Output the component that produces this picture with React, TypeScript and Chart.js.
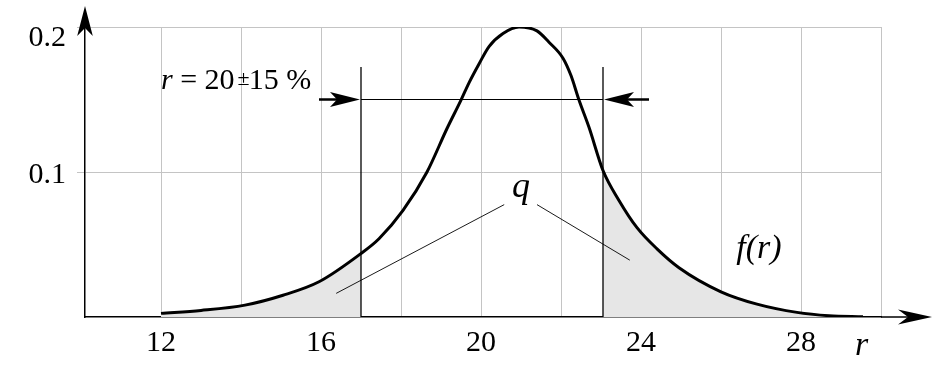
import React, { useEffect, useRef } from 'react';
import { Chart, registerables } from 'chart.js';

Chart.register(...registerables);

// density curve f(r)
const rValues = [12, 13, 14.1, 15.05, 15.95, 17, 17.45, 18.05, 18.65, 19.15, 19.5, 19.7, 19.95, 20.2, 20.55, 20.95, 21.4, 21.7, 22.05, 22.25, 22.45, 22.7, 23.05, 23.45, 23.9, 24.4, 24.95, 26, 26.9, 27.9, 28.7, 29.55];
const fValues = [0.0025, 0.0045, 0.0082, 0.015, 0.0243, 0.0438, 0.054, 0.0735, 0.1, 0.13, 0.1496, 0.1615, 0.1745, 0.1865, 0.1955, 0.2, 0.1973, 0.1895, 0.1785, 0.1665, 0.1496, 0.1308, 0.101, 0.0804, 0.0616, 0.047, 0.034, 0.0174, 0.0089, 0.0032, 0.0009, 0.0002];

// axes
const xMin = 10.1;
const xMax = 30;
const xGridTicks = [12, 14, 16, 18, 20, 22, 24, 26, 28, 30];
const xTickLabels = [12, 16, 20, 24, 28];
const yGridTicks = [0, 0.1, 0.2];
const yTickLabels = [0.1, 0.2];

// annotation values
const intervalLow = 17;
const intervalHigh = 23.05;
const markerTop = 0.1725;
const arrowLevel = 0.15;
const arrowTailLow = 15.95;
const arrowTailHigh = 24.2;
const intervalText = ['r', ' = 20', '\u00b1', '15 %'];
const intervalTextPos = { x: 12, y: 0.157 };
const qPos = { x: 21, y: 0.0825 };
const qLeaderLeft = [{ x: 20.58, y: 0.0775 }, { x: 16.38, y: 0.0163 }];
const qLeaderRight = [{ x: 21.4, y: 0.0775 }, { x: 23.72, y: 0.0392 }];
const fLabel = 'f(r)';
const fLabelPos = { x: 26.38, y: 0.0405 };
const axisLabel = 'r';
const axisLabelX = 29.35;

const SERIF = '"Liberation Serif", "Times New Roman", serif';
const FS = 30;

function stealth(ctx: CanvasRenderingContext2D, tx: number, ty: number, ang: number, L: number, W: number, N: number) {
  ctx.save();
  ctx.translate(tx, ty);
  ctx.rotate(ang);
  ctx.beginPath();
  ctx.moveTo(0, 0);
  ctx.lineTo(-L, -W);
  ctx.lineTo(-N, 0);
  ctx.lineTo(-L, W);
  ctx.closePath();
  ctx.fill();
  ctx.restore();
}

const annotPlugin = {
  id: 'annot',
  afterDraw(chart: any) {
    const { ctx, chartArea: ca, scales } = chart;
    const X = (v: number) => scales.x.getPixelForValue(v);
    const Y = (v: number) => scales.y.getPixelForValue(v);
    ctx.save();
    ctx.fillStyle = '#000';
    ctx.strokeStyle = '#000';

    // axis arrows
    ctx.lineWidth = 1.5;
    ctx.beginPath();
    ctx.moveTo(ca.left, ca.top);
    ctx.lineTo(ca.left, ca.top - 21 + 22);
    ctx.stroke();
    stealth(ctx, ca.left, ca.top - 21, -Math.PI / 2, 30, 7.8, 22);
    ctx.beginPath();
    ctx.moveTo(ca.right, ca.bottom);
    ctx.lineTo(ca.right + 30, ca.bottom);
    ctx.stroke();
    stealth(ctx, ca.right + 51, ca.bottom, 0, 34, 7.5, 24);

    // interval markers
    ctx.lineWidth = 1.3;
    [intervalLow, intervalHigh].forEach((v) => {
      ctx.beginPath();
      ctx.moveTo(X(v), Y(markerTop));
      ctx.lineTo(X(v), Y(0));
      ctx.stroke();
    });
    ctx.lineWidth = 1.2;
    ctx.beginPath();
    ctx.moveTo(X(intervalLow), Y(arrowLevel));
    ctx.lineTo(X(intervalHigh), Y(arrowLevel));
    ctx.stroke();
    ctx.lineWidth = 2.5;
    ctx.beginPath();
    ctx.moveTo(X(arrowTailLow), Y(arrowLevel));
    ctx.lineTo(X(intervalLow) - 20, Y(arrowLevel));
    ctx.moveTo(X(arrowTailHigh), Y(arrowLevel));
    ctx.lineTo(X(intervalHigh) + 20, Y(arrowLevel));
    ctx.stroke();
    stealth(ctx, X(intervalLow) - 1, Y(arrowLevel), 0, 30, 7.5, 23);
    stealth(ctx, X(intervalHigh) + 1, Y(arrowLevel), Math.PI, 30, 7.5, 23);

    // q leaders
    ctx.lineWidth = 0.9;
    [qLeaderLeft, qLeaderRight].forEach((seg) => {
      ctx.beginPath();
      ctx.moveTo(X(seg[0].x), Y(seg[0].y));
      ctx.lineTo(X(seg[1].x), Y(seg[1].y));
      ctx.stroke();
    });

    // texts
    ctx.textBaseline = 'alphabetic';
    ctx.textAlign = 'left';
    let tx = X(intervalTextPos.x);
    const ty = Y(intervalTextPos.y);
    ctx.font = `italic ${FS}px ${SERIF}`;
    ctx.fillText(intervalText[0], tx, ty);
    tx += ctx.measureText(intervalText[0]).width;
    ctx.font = `${FS}px ${SERIF}`;
    ctx.fillText(intervalText[1], tx, ty);
    tx += ctx.measureText(intervalText[1]).width + 3;
    ctx.font = `22px ${SERIF}`;
    ctx.fillText(intervalText[2], tx, ty - 4);
    tx += ctx.measureText(intervalText[2]).width - 1;
    ctx.font = `${FS}px ${SERIF}`;
    ctx.fillText(intervalText[3], tx, ty);

    ctx.font = `italic 36px ${SERIF}`;
    ctx.textAlign = 'center';
    ctx.fillText('q', X(qPos.x), Y(qPos.y));

    ctx.textAlign = 'left';
    ctx.font = `italic 34px ${SERIF}`;
    ctx.fillText(fLabel, X(fLabelPos.x), Y(fLabelPos.y));

    ctx.font = `italic 34px ${SERIF}`;
    ctx.fillText(axisLabel, X(axisLabelX), ca.bottom + 38);
    ctx.restore();
  },
};

export default function App() {
  const ref = useRef<HTMLCanvasElement | null>(null);
  useEffect(() => {
    if (!ref.current) return;
    const pts = rValues.map((r, i) => ({ x: r, y: fValues[i] }));
    const left = pts.filter((p) => p.x <= intervalLow);
    const right = pts.filter((p) => p.x >= intervalHigh);
    const common = { pointRadius: 0, cubicInterpolationMode: 'monotone' };
    const chart = new Chart(ref.current, {
      type: 'line',
      data: {
        datasets: [
          { ...common, data: pts, borderColor: '#000', borderWidth: 3, fill: false, order: 0 },
          { ...common, data: left, borderWidth: 0, borderColor: 'rgba(0,0,0,0)', backgroundColor: '#e6e6e6', fill: 'origin', order: 1 },
          { ...common, data: right, borderWidth: 0, borderColor: 'rgba(0,0,0,0)', backgroundColor: '#e6e6e6', fill: 'origin', order: 1 },
        ],
      },
      options: {
        animation: false,
        responsive: false,
        devicePixelRatio: 1,
        layout: { padding: { left: 0, top: 26, right: 55, bottom: 0 } },
        plugins: { legend: { display: false }, tooltip: { enabled: false } },
        scales: {
          x: {
            type: 'linear',
            min: xMin,
            max: xMax,
            afterBuildTicks: (s: any) => { s.ticks = xGridTicks.map((v) => ({ value: v })); },
            afterFit: (s: any) => { s.height = 56; },
            grid: { color: '#c4c4c4', lineWidth: 1, drawTicks: false },
            border: { color: '#000', width: 1.5 },
            ticks: {
              padding: 8,
              color: '#000',
              maxRotation: 0,
              autoSkip: false,
              font: { family: SERIF, size: FS },
              callback: (v: any) => (xTickLabels.includes(v) ? String(v) : ''),
            },
          },
          y: {
            type: 'linear',
            min: 0,
            max: 0.2,
            afterBuildTicks: (s: any) => { s.ticks = yGridTicks.map((v) => ({ value: v })); },
            afterFit: (s: any) => { s.width = 85; },
            grid: {
              color: (c: any) => (c.tick && c.tick.value === 0 ? 'rgba(0,0,0,0)' : '#c4c4c4'),
              lineWidth: 1,
              drawTicks: true,
              tickLength: 8,
            },
            border: { color: '#000', width: 1.5 },
            ticks: {
              padding: 11,
              labelOffset: 3,
              color: '#000',
              autoSkip: false,
              font: (c: any) => ({ family: SERIF, size: FS, lineHeight: c.tick && c.tick.value === 0.2 ? 16 / FS : 1.2 }),
              callback: (v: any) => (v === 0.2 ? ['', '0.2'] : yTickLabels.includes(v) ? String(v) : ''),
            },
          },
        },
      },
      plugins: [annotPlugin],
    } as any);
    return () => chart.destroy();
  }, []);
  return (
    <div style={{ position: 'fixed', left: 0, top: 0, width: 936, height: 373, background: '#fff' }}>
      <canvas ref={ref} width={936} height={373} style={{ display: 'block' }} />
    </div>
  );
}
